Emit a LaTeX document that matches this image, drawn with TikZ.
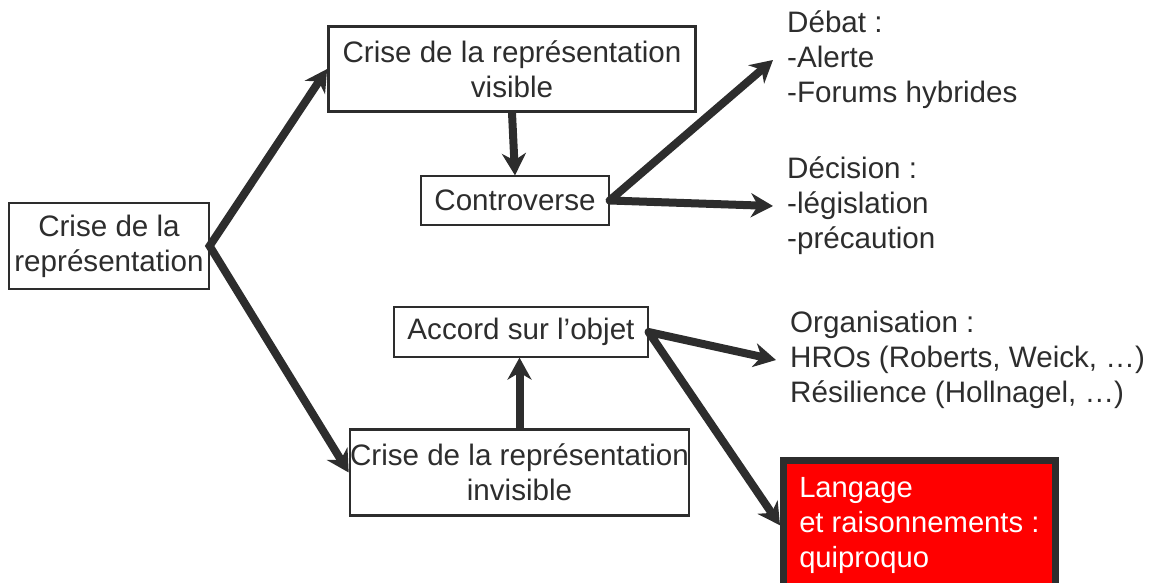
\documentclass[tikz,border=0pt]{standalone}
\usepackage{fontspec}
\setmainfont{Liberation Sans}
\usetikzlibrary{arrows.meta}
\definecolor{dk}{RGB}{45,45,45}
\definecolor{redbox}{RGB}{255,0,0}
\begin{document}
\begin{tikzpicture}[x=1pt,y=-1pt,
  every node/.style={font=\fontsize{29.6pt}{35pt}\selectfont, text=dk},
  box/.style={draw=dk, line width=1.2pt, inner sep=0pt, align=center},
  thickbox/.style={box, line width=2.7pt},
  txt/.style={align=left, inner xsep=14pt, inner ysep=0pt, anchor=west},
  conn/.style={draw=dk, line width=8pt, line join=round,
    {Stealth[length=22pt,width=24pt,inset=7pt]}-{Stealth[length=22pt,width=24pt,inset=7pt]}},
  conn1/.style={draw=dk, line width=8pt, -{Stealth[length=22pt,width=24pt,inset=7pt]}},
]
\useasboundingbox (0,0) rectangle (1153,583);

% boxes
\node[box, minimum width=200pt, minimum height=86pt] (L) at (109,246) {Crise de la\\représentation};
\node[thickbox, minimum width=367pt, minimum height=85pt] (V) at (512,69) {Crise de la représentation\\visible};
\node[box, minimum width=188pt, minimum height=49pt] (C) at (515,200.5) {Controverse};
\node[box, minimum width=254pt, minimum height=50pt] (A) at (521,332) {Accord sur l’objet};
\node[thickbox, minimum width=338pt, minimum height=86pt] (I) at (519.5,472.5) {Crise de la représentation\\invisible};
\node[draw=dk, fill=redbox, line width=6.5pt, text=white, align=left,
      font=\fontsize{29.2pt}{35pt}\selectfont,
      inner xsep=16pt, inner ysep=17pt, anchor=north west] (R) at (780,457)
      {Langage\\et raisonnements :\\quiproquo};

% free texts
\node[txt] (Deb) at (773,60) {Débat :\\-Alerte\\-Forums hybrides};
\node[txt] (Dec) at (773,206) {Décision :\\-législation\\-précaution};
\node[txt] (Org) at (776,360) {Organisation :\\HROs (Roberts, Weick, …)\\Résilience (Hollnagel, …)};

% connectors
\draw[conn, line join=miter] (V.west) -- (L.east) -- (I.west);
\draw[conn1] (V.south) -- (C.north);
\draw[conn1] (I.north) -- (I.north |- A.south);
\draw[conn] (Deb.west) -- (C.east) -- (Dec.west);
\draw[conn] (Org.west) -- (A.east) -- (R.west);
\end{tikzpicture}
\end{document}
